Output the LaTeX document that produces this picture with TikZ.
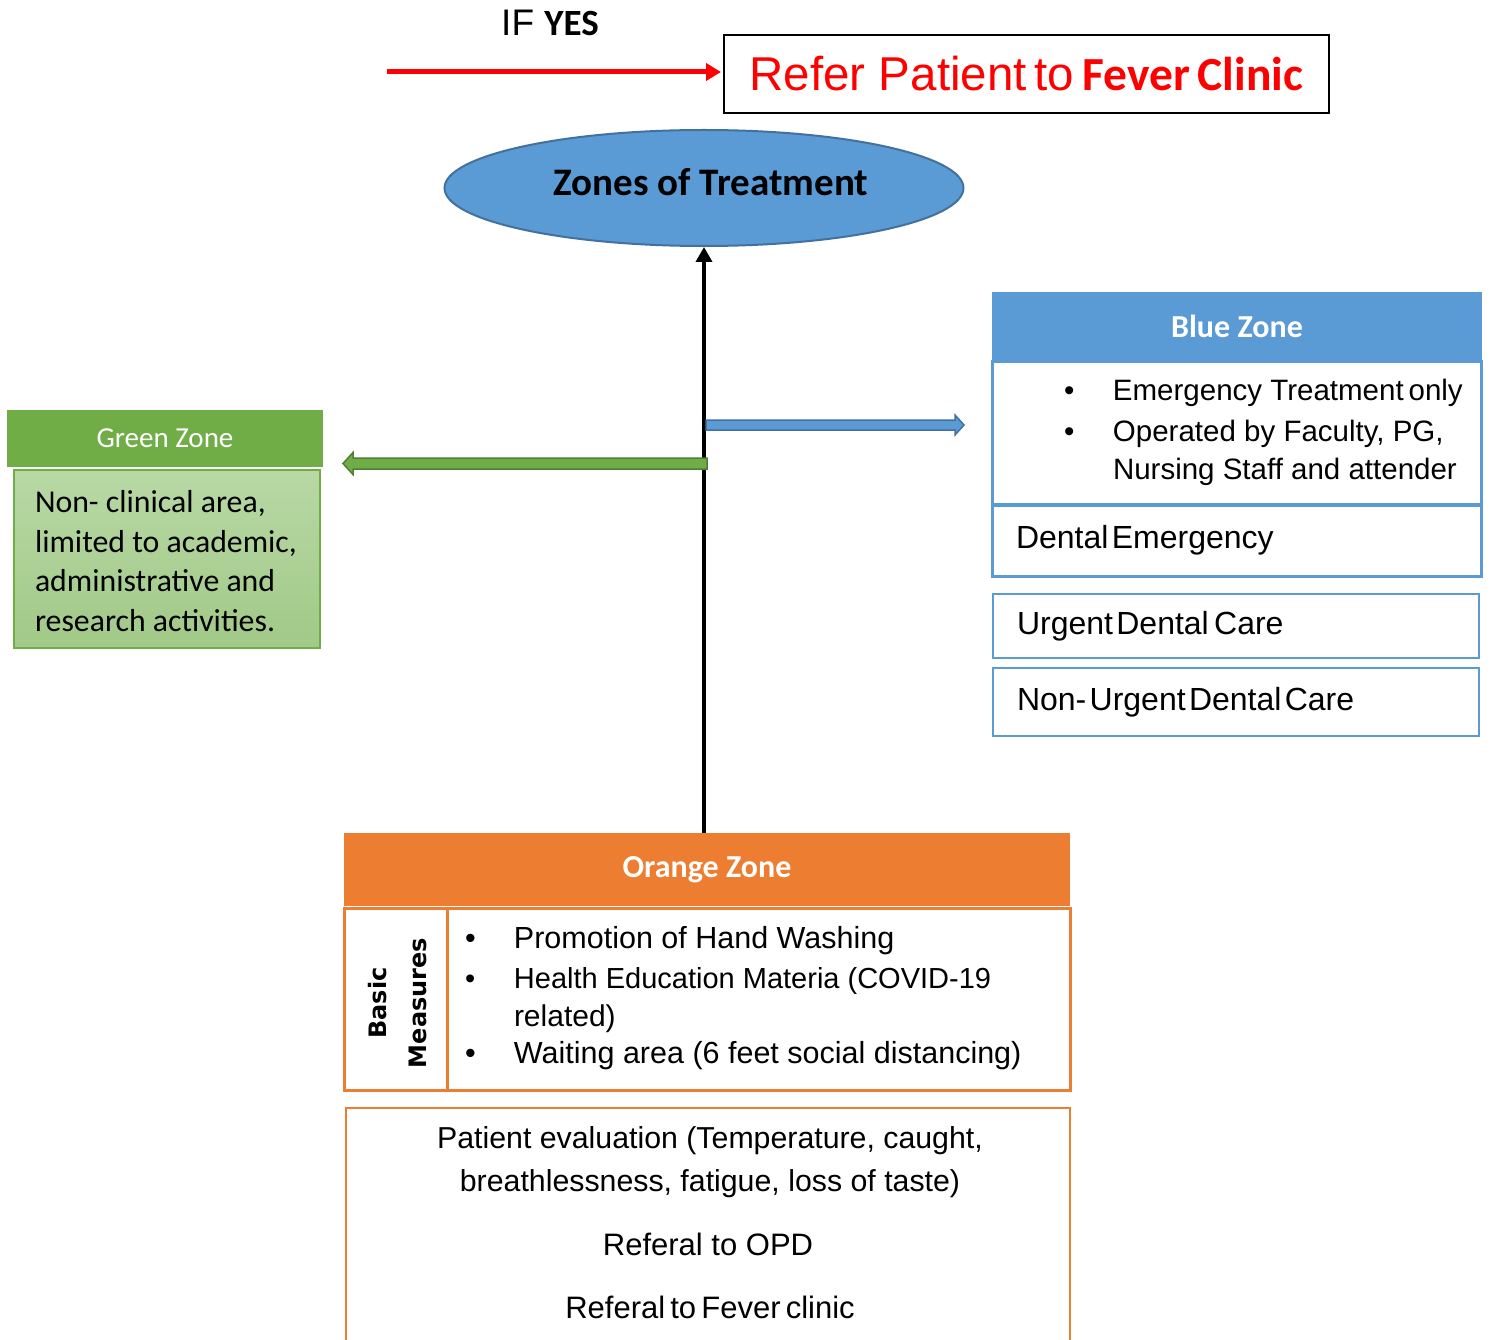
\documentclass[tikz,border=0pt]{standalone}
\usepackage{fontspec}
\setmainfont{Liberation Sans}
\newfontfamily\calibri{Carlito}
\newfontfamily\verdana{DejaVu Sans}
\usetikzlibrary{shapes.geometric,arrows.meta,calc}

\definecolor{zblue}{HTML}{5B9BD5}
\definecolor{zbluedark}{HTML}{41719C}
\definecolor{zgreen}{HTML}{70AD47}
\definecolor{zgreendark}{HTML}{507E32}
\definecolor{zgreentop}{HTML}{B8D8A5}
\definecolor{zgreenbot}{HTML}{A1C987}
\definecolor{zorange}{HTML}{ED7D31}

\newcommand{\fsz}[2]{\fontsize{#1}{#2}\selectfont}
\newcommand{\bul}[1]{\makebox[#1][l]{\textbullet}}

\begin{document}
\begin{tikzpicture}[x=1pt,y=-1pt,
  panel/.style={rectangle, inner sep=0pt, outer sep=0pt},
  head/.style={panel, text=white},
  txt/.style={inner sep=0pt, outer sep=0pt},
  bluebox/.style={panel, draw=zblue, minimum width=#1, inner xsep=24pt, text width=400pt, align=left},
  orangebox/.style={panel, draw=zorange, line width=3pt},
  blockarrow/.style={line width=1.5pt, line join=miter}]

\useasboundingbox (0,0) rectangle (1494,1340);
\clip (0,0) rectangle (1494,1340);

% referral box and its red arrow
\node[panel, draw=black, line width=2pt, minimum width=605pt, minimum height=78pt, text=red]
  (refer) at (1026.5,74) {\fsz{47.5}{50}Refer Patient\,to\,{\calibri\bfseries Fever\,Clinic}};
\node[txt, anchor=base] (ifyes) at (550,36) {\fsz{37}{40}IF {\calibri\bfseries YES}};
\coordinate (redstart) at (387,72);
\draw[red, line width=5pt, -{Triangle[length=15pt,width=17pt]}, shorten >=3pt]
  (redstart) -- (redstart -| refer.west);

% central ellipse
\node[ellipse, draw=zbluedark, line width=2pt, fill=zblue, minimum width=519pt,
  minimum height=116pt, inner sep=0pt, text depth=12pt]
  (zones) at (704,188) {\calibri\bfseries\fsz{39}{44}\hspace*{14pt}Zones of Treatment};

% orange zone
\node[head, fill=zorange, minimum width=726pt, minimum height=73pt]
  (orangeH) at (707,869.5) {\calibri\bfseries\fsz{32}{36}Orange Zone};
\node[orangebox, minimum width=103pt, minimum height=182pt] (basic) at (395.5,999) {};
\node[txt, rotate=90, align=center, font=\verdana\bfseries\fsz{24}{40}]
  (basictxt) at ($(basic.center)+(2,4)$) {Basic\\Measures};
\node[orangebox, minimum width=623pt, minimum height=182pt] (measures) at (758.5,999) {};
\node[txt, anchor=base west] (m1) at (465,948) {\fsz{30.5}{36}\bul{49pt}Promotion of Hand Washing};
\node[txt, anchor=base west] (m2) at (465,988) {\fsz{29}{36}\bul{49pt}Health Education Materia (COVID-19};
\node[txt, anchor=base west] (m3) at (514,1026) {\fsz{30}{36}related)};
\node[txt, anchor=base west] (m4) at (465,1063) {\fsz{30.5}{36}\bul{49pt}Waiting area (6 feet social distancing)};

% patient evaluation panel
\node[panel, draw=zorange, line width=2.5pt, minimum width=724pt, minimum height=260pt, anchor=north]
  (evalbox) at (708,1108) {};
\node[txt, anchor=base] (e1) at (710,1148) {\fsz{30.3}{36}Patient evaluation (Temperature, caught,};
\node[txt, anchor=base] (e2) at (710,1191) {\fsz{30.3}{36}breathlessness, fatigue, loss of taste)};
\node[txt, anchor=base] (e3) at (708,1255) {\fsz{31}{36}Referal to OPD};
\node[txt, anchor=base] (e4) at (710,1318) {\fsz{31}{36}Referal\,to\,Fever\,clinic};

% main vertical connector
\draw[line width=3.5pt, -{Triangle[length=15pt,width=16pt]}]
  (zones.south |- orangeH.north) -- (zones.south);

% blue zone
\node[head, fill=zblue, minimum width=490pt, minimum height=68pt]
  (blueH) at (1237,326) {\calibri\bfseries\fsz{32}{36}Blue Zone};
\node[panel, draw=zblue, line width=3pt, minimum width=489pt, minimum height=143pt]
  (blueA) at (1236.5,432.5) {};
\node[txt, anchor=base west] (b1) at (1064,400) {\fsz{29.5}{34}\bul{49pt}Emergency Treatment\,only};
\node[txt, anchor=base west] (b2) at (1064,441) {\fsz{29.5}{34}\bul{49pt}Operated by Faculty, PG,};
\node[txt, anchor=base west] (b3) at (1113,479) {\fsz{29.5}{34}Nursing Staff and attender};
\node[bluebox=489pt, line width=3pt, minimum height=71pt, text width=441pt]
  (blueB) at (1236.5,540.5) {\fsz{32}{36}Dental Emergency};
\node[bluebox=486pt, line width=2.5pt, minimum height=64pt, text width=438pt]
  (blueC) at (1236,626) {\fsz{32}{36}Urgent Dental\,Care};
\node[bluebox=486pt, line width=2.5pt, minimum height=68pt, text width=438pt]
  (blueD) at (1236,702) {\fsz{32}{36}Non- Urgent Dental Care};

% green zone
\node[head, fill=zgreen, minimum width=316pt, minimum height=57pt]
  (greenH) at (165,438.5) {\calibri\fsz{29}{32}Green Zone};
\node[panel, draw=zgreen, line width=2pt, top color=zgreentop, bottom color=zgreenbot,
  minimum width=306pt, minimum height=178pt] (greenB) at (167,559) {};
\node[txt, anchor=west, align=left, font=\calibri\fsz{31.8}{39.5}] (greentxt) at ($(greenB.west)+(21,2)$)
  {Non- clinical area,\\limited to academic,\\administrative and\\research activities.};

% block arrows leaving the central line
\coordinate (bs) at (706,425);
\coordinate (bt) at (964,425);
\draw[blockarrow, draw=zbluedark, fill=zblue]
  ($(bs)+(0,-5)$) -- ($(bt)+(-9,-5)$) -- ($(bt)+(-9,-10)$) -- (bt)
  -- ($(bt)+(-9,10)$) -- ($(bt)+(-9,5)$) -- ($(bs)+(0,5)$) -- cycle;
\coordinate (gs) at (707,463.5);
\coordinate (gt) at (343,463.5);
\draw[blockarrow, draw=zgreendark, fill=zgreen]
  ($(gs)+(0,-5.5)$) -- ($(gt)+(10,-5.5)$) -- ($(gt)+(10,-11)$) -- (gt)
  -- ($(gt)+(10,11)$) -- ($(gt)+(10,5.5)$) -- ($(gs)+(0,5.5)$) -- cycle;

\end{tikzpicture}
\end{document}
